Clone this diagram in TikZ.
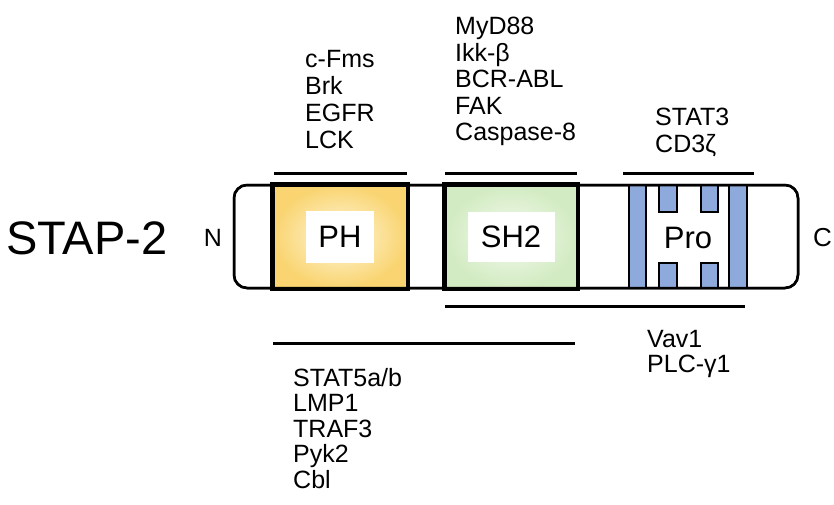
\documentclass[tikz,border=0pt]{standalone}
\usepackage{fontspec}
\setmainfont{Liberation Sans}
\definecolor{phedge}{RGB}{249,212,112}
\definecolor{phcenter}{RGB}{255,247,220}
\definecolor{shedge}{RGB}{210,235,194}
\definecolor{shcenter}{RGB}{244,250,238}
\definecolor{stripe}{RGB}{142,169,219}
\begin{document}
\begin{tikzpicture}[x=1pt,y=-1pt,
  bar/.style={line width=3pt},
  domainbox/.style={draw=black,line width=3pt,inner sep=0pt},
  labbox/.style={fill=white,inner sep=0pt,font=\fontsize{31}{34}\selectfont},
  plist/.style={anchor=north west,inner sep=0pt,align=left,font=\fontsize{25}{26.5}\selectfont},
  stripebox/.style={draw=black,fill=stripe,line width=2.5pt}]
\useasboundingbox (0,0) rectangle (834,504);
% body
\draw[line width=2.5pt,rounded corners=13pt] (234,185) rectangle (798,288);
\node[font=\fontsize{47}{50}\selectfont,inner sep=0pt,anchor=west] (stap) at (6,238) {STAP-2};
\node[font=\fontsize{25}{28}\selectfont,inner sep=0pt] (nterm) at (213,238) {N};
\node[font=\fontsize{26}{28}\selectfont,inner sep=0pt,anchor=west] (cterm) at (813,238) {C};
% PH
\node[domainbox,shading=radial,inner color=phcenter,outer color=phedge,minimum width=134pt,minimum height=103pt] (ph) at (340,236.5) {};
\node[labbox,minimum width=68pt,minimum height=52pt] (phl) at (ph.center) {PH};
% SH2
\node[domainbox,shading=radial,inner color=shcenter,outer color=shedge,minimum width=132pt,minimum height=103pt] (sh) at (511,236.5) {};
\node[labbox,minimum width=87pt,minimum height=50pt] (shl) at (sh.center) {SH2};
% Pro stripes
\draw[stripebox] (629,185) rectangle (646,288);
\draw[stripebox] (729,185) rectangle (747,288);
\draw[stripebox] (659,185) rectangle (677,212);
\draw[stripebox] (659,263) rectangle (677,288);
\draw[stripebox] (701,185) rectangle (718,212);
\draw[stripebox] (701,263) rectangle (718,288);
\draw[line width=2.5pt,rounded corners=13pt] (234,185) rectangle (798,288);
\draw[line width=3pt] (ph.north west) rectangle (ph.south east);
\draw[line width=3pt] (sh.north west) rectangle (sh.south east);
\node[font=\fontsize{31}{34}\selectfont,inner sep=0pt] (pro) at (688,238) {Pro};
% bars
\draw[bar] (274,173) coordinate (a1) -- (407,173) coordinate (a2);
\draw[bar] (445,173) coordinate (b1) -- (577,173) coordinate (b2);
\draw[bar] (623,173) coordinate (c1) -- (754,173) coordinate (c2);
\draw[bar] (445,306) coordinate (d1) -- (745,306) coordinate (d2);
\draw[bar] (273,343) coordinate (e1) -- (575,343) coordinate (e2);
% lists
\node[plist,font=\fontsize{25}{27}\selectfont] (l1) at (305,50) {c-Fms\\Brk\\EGFR\\LCK};
\node[plist] (l2) at (455,17) {MyD88\\Ikk-β\\BCR-ABL\\FAK\\Caspase-8};
\node[plist] (l3) at (655,108) {STAT3\\CD3ζ};
\node[plist,font=\fontsize{25}{25.5}\selectfont] (l4) at (647,330) {Vav1\\PLC-γ1};
\node[plist,font=\fontsize{25}{25.5}\selectfont] (l5) at (293,368) {STAT5a/b\\LMP1\\TRAF3\\Pyk2\\Cbl};
\end{tikzpicture}
\end{document}
